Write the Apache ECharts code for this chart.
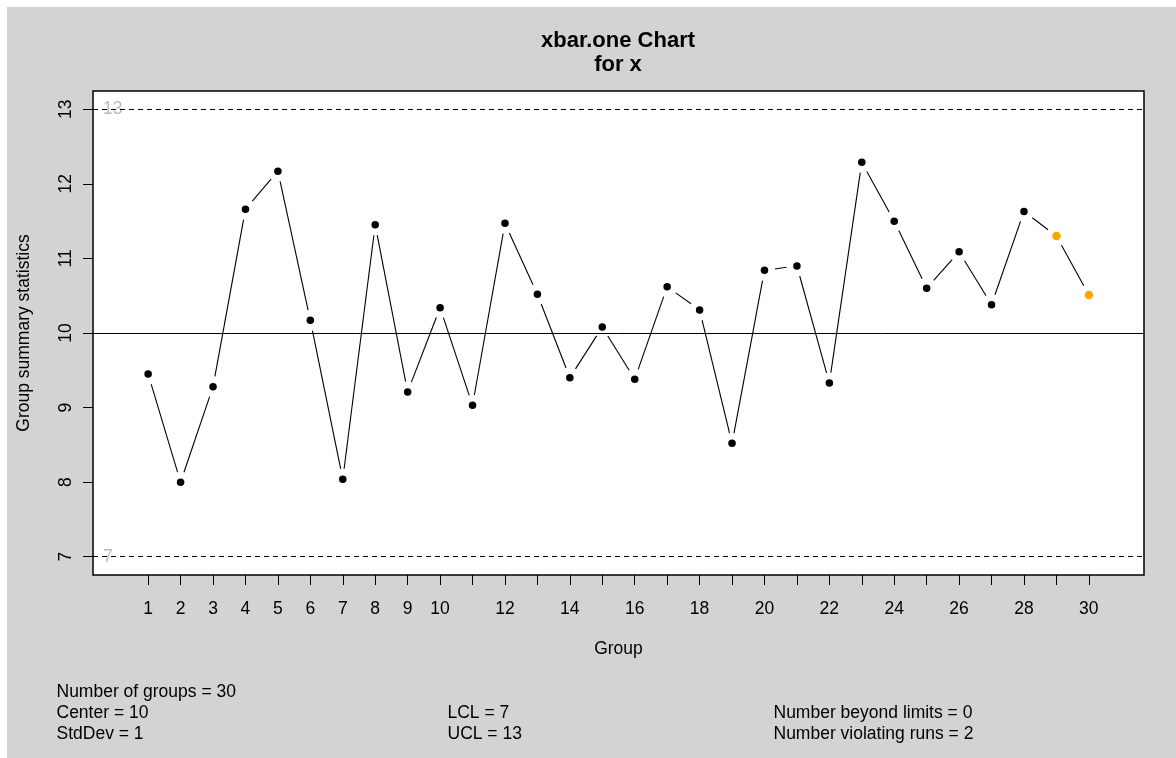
<!DOCTYPE html>
<html>
<head>
<meta charset="utf-8">
<title>xbar.one Chart for x</title>
<script src="https://cdn.jsdelivr.net/npm/echarts@6/dist/echarts.min.js"></script>
<style>
  html, body { margin: 0; padding: 0; background: #ffffff; }
  #main { position: absolute; left: 7px; top: 7px; width: 1169px; height: 751px; background: #d3d3d3; }
</style>
</head>
<body>
<div id="main"></div>
<script>
// Individual observations (one per group)
const groups = [1, 2, 3, 4, 5, 6, 7, 8, 9, 10, 11, 12, 13, 14, 15, 16, 17, 18, 19, 20, 21, 22, 23, 24, 25, 26, 27, 28, 29, 30];
const values = [9.45, 8.00, 9.28, 11.66, 12.17, 10.17, 8.04, 11.45, 9.21, 10.34,
                9.03, 11.47, 10.52, 9.40, 10.08, 9.38, 10.62, 10.31, 8.52, 10.84,
                10.90, 9.33, 12.29, 11.50, 10.60, 11.09, 10.38, 11.63, 11.30, 10.51];
// Groups flagged as violating runs
const violating = [29, 30];

// Control limits and process statistics
const center = 10;
const stdDev = 1;
const lcl = 7;
const ucl = 13;

// Axis ticks and labels
const xTickValues = groups;
const xLabelValues = [1, 2, 3, 4, 5, 6, 7, 8, 9, 10, 12, 14, 16, 18, 20, 22, 24, 26, 28, 30];
const yTickValues = [7, 8, 9, 10, 11, 12, 13];

const X_MIN = -0.7, X_MAX = 31.7;
const Y_MIN = 6.755, Y_MAX = 13.245;
const FONT = '"Liberation Sans", Arial, Helvetica, sans-serif';
const GAP = 10.5; // gap left between a segment end and its point

const beyond = values.filter(v => v > ucl || v < lcl).length;

const normalPts = [], runPts = [];
groups.forEach((g, i) => {
  (violating.includes(g) ? runPts : normalPts).push([g, values[i]]);
});

const segments = [];
for (let i = 0; i < groups.length - 1; i++) {
  segments.push([groups[i], values[i], groups[i + 1], values[i + 1]]);
}

function text(x, y, str, font, align) {
  return {
    type: 'text', x: x, y: y, silent: true,
    style: {
      text: str, fill: '#000', font: font || ('17.5px ' + FONT),
      align: align || 'left', textAlign: align || 'left',
      verticalAlign: 'middle', textVerticalAlign: 'middle'
    }
  };
}

const chart = echarts.init(document.getElementById('main'), null, { renderer: 'canvas' });

chart.setOption({
  backgroundColor: 'transparent',
  animation: false,
  grid: {
    left: 85, top: 84, right: 32, bottom: 183,
    show: true, backgroundColor: '#ffffff', borderColor: '#000', borderWidth: 1.5
  },
  xAxis: {
    type: 'value', min: X_MIN, max: X_MAX,
    name: 'Group', nameLocation: 'middle', nameGap: 65,
    nameTextStyle: { color: '#000', fontSize: 17.5, fontFamily: FONT },
    axisLine: { show: false, onZero: false },
    axisTick: { show: true, inside: false, length: 10, customValues: xTickValues,
                lineStyle: { color: '#000', width: 1 } },
    axisLabel: { show: true, customValues: xLabelValues, margin: 25,
                 color: '#000', fontSize: 17.5, fontFamily: FONT },
    splitLine: { show: false }
  },
  yAxis: {
    type: 'value', min: Y_MIN, max: Y_MAX,
    name: 'Group summary statistics', nameLocation: 'middle', nameGap: 60, nameRotate: 90,
    nameTextStyle: { color: '#000', fontSize: 17.5, fontFamily: FONT },
    axisLine: { show: false, onZero: false },
    axisTick: { show: true, inside: false, length: 10, customValues: yTickValues,
                lineStyle: { color: '#000', width: 1 } },
    axisLabel: { show: true, customValues: yTickValues, rotate: 90, margin: 18,
                 color: '#000', fontSize: 17.5, fontFamily: FONT },
    splitLine: { show: false }
  },
  graphic: [
    text(611, 34, 'xbar.one Chart', 'bold 22px ' + FONT, 'center'),
    text(611, 58, 'for x', 'bold 22px ' + FONT, 'center'),
    text(49.5, 685, 'Number of groups = ' + groups.length),
    text(49.5, 706, 'Center = ' + center),
    text(49.5, 727, 'StdDev = ' + stdDev),
    text(440.5, 706, 'LCL = ' + lcl),
    text(440.5, 727, 'UCL = ' + ucl),
    text(766.5, 706, 'Number beyond limits = ' + beyond),
    text(766.5, 727, 'Number violating runs = ' + violating.length)
  ],
  series: [
    {
      // Connecting segments, stopped short of each point
      type: 'custom',
      z: 2,
      silent: true,
      encode: { x: [0, 2], y: [1, 3] },
      data: segments,
      renderItem: function (params, api) {
        const a = api.coord([api.value(0), api.value(1)]);
        const b = api.coord([api.value(2), api.value(3)]);
        const dx = b[0] - a[0], dy = b[1] - a[1];
        const len = Math.sqrt(dx * dx + dy * dy);
        if (len <= 2 * GAP) return null;
        const ux = dx / len, uy = dy / len;
        return {
          type: 'line',
          shape: { x1: a[0] + ux * GAP, y1: a[1] + uy * GAP, x2: b[0] - ux * GAP, y2: b[1] - uy * GAP },
          style: { stroke: '#000', lineWidth: 1.1 }
        };
      }
    },
    {
      type: 'scatter',
      z: 3,
      silent: true,
      symbol: 'circle',
      symbolSize: 7.5,
      itemStyle: { color: '#000', opacity: 1 },
      data: normalPts,
      markLine: {
        silent: true,
        symbol: ['none', 'none'],
        label: { show: false },
        animation: false,
        data: [
          { yAxis: center, lineStyle: { color: '#000', width: 1, type: 'solid', opacity: 1 } },
          { yAxis: ucl, lineStyle: { color: '#000', width: 1, type: [5, 4], opacity: 1 } },
          { yAxis: lcl, lineStyle: { color: '#000', width: 1, type: [5, 4], opacity: 1 } }
        ]
      }
    },
    {
      type: 'scatter',
      z: 3,
      silent: true,
      symbol: 'circle',
      symbolSize: 8.5,
      itemStyle: { color: '#ffa500', opacity: 1 },
      data: runPts
    },
    {
      // Limit values written at the left edge of the plot
      type: 'scatter',
      z: 4,
      silent: true,
      symbolSize: 0,
      data: [[X_MIN, ucl], [X_MIN, lcl]],
      label: {
        show: true, position: 'right', distance: 10,
        color: '#aaaaaa', fontSize: 17.5, fontFamily: FONT,
        formatter: p => String(p.value[1])
      }
    }
  ]
});
</script>
</body>
</html>
